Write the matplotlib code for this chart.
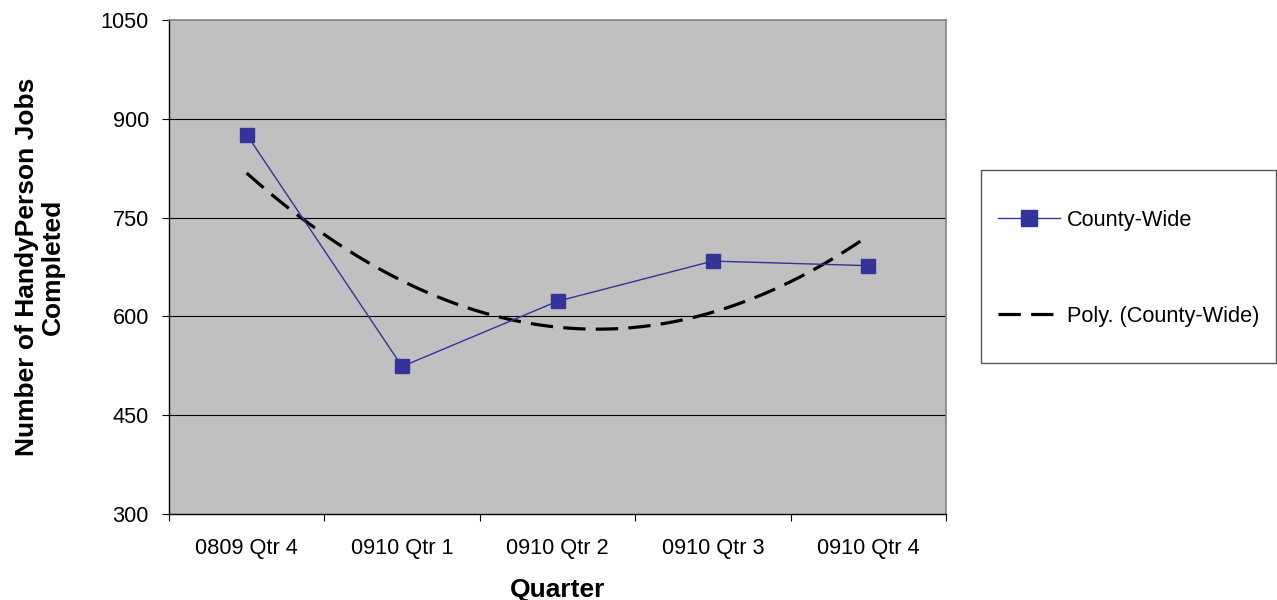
import matplotlib.pyplot as plt
from matplotlib.patches import Rectangle
import numpy as np

plt.rcParams['font.family'] = ['Liberation Sans', 'DejaVu Sans']

quarters = ["0809 Qtr 4", "0910 Qtr 1", "0910 Qtr 2", "0910 Qtr 3", "0910 Qtr 4"]
jobs = [876, 524, 623, 684, 677]
y_ticks = [300, 450, 600, 750, 900, 1050]

W, H = 1277, 600
fig = plt.figure(figsize=(W / 100, H / 100), dpi=100)
ax = fig.add_axes([169 / W, 1 - 514 / H, (946 - 169) / W, (514 - 20) / H])
ax.set_facecolor("#C0C0C0")

x = np.arange(len(quarters))
ax.plot(x, jobs, color="#333399", lw=1, marker="s", markersize=10,
        markerfacecolor="#333399", markeredgecolor="#333399", label="County-Wide", zorder=4)

# 2nd order polynomial trendline, like excel does
coef = np.polyfit(x, jobs, 2)
xs = np.linspace(0, 3.95, 200)
ax.plot(xs, np.polyval(coef, xs), color="black", lw=2.3, dashes=(7, 3.2),
        label="Poly. (County-Wide)", zorder=3)

ax.set_ylim(300, 1050)
ax.set_yticks(y_ticks)
ax.set_xlim(-0.5, 4.5)
ax.set_xticks(np.arange(-0.5, 5, 1))
ax.set_xticklabels([])
ax.set_xticks(x, minor=True)
ax.set_xticklabels(quarters, minor=True)
ax.tick_params(axis="x", which="minor", length=0, pad=17, labelsize=15.7)
ax.tick_params(axis="x", which="major", length=5, direction="out", color="black")
ax.tick_params(axis="y", length=5, direction="out", labelsize=15.7, pad=9.5)

for yv in y_ticks[1:-1]:
    ax.axhline(yv, color="black", lw=0.8, zorder=1)

for s in ["top", "right"]:
    ax.spines[s].set_color("#808080")
    ax.spines[s].set_linewidth(1.2)
for s in ["left", "bottom"]:
    ax.spines[s].set_color("black")
    ax.spines[s].set_linewidth(1)

ax.set_xlabel("Quarter", fontsize=19, fontweight="bold", labelpad=14)
ax.set_ylabel("Number of HandyPerson Jobs\nCompleted", fontsize=19, fontweight="bold",
              labelpad=26, linespacing=1.1)

# legend box drawn by hand so the padding matches
fig.patches.append(Rectangle((981 / W, 1 - 363 / H), (1276 - 981) / W, (363 - 170) / H,
                             transform=fig.transFigure, facecolor="white",
                             edgecolor="#555555", lw=1, zorder=0))
leg = fig.legend(loc="center left", bbox_to_anchor=(998 / W, 1 - 268.5 / H),
                 frameon=False, fontsize=15.7, handlelength=2.85, markerscale=1.1,
                 labelspacing=3.45, borderpad=0, handletextpad=0.3, borderaxespad=0)

fig.savefig("out.png", dpi=100)
